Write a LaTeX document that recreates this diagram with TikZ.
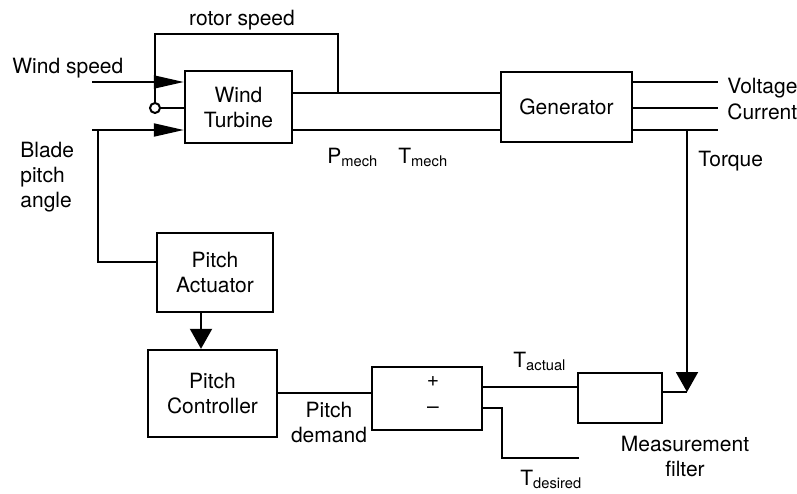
\documentclass[tikz,border=0pt]{standalone}
\usepackage{fontspec}
\setmainfont{TeX Gyre Heros}
\usetikzlibrary{arrows.meta}

\begin{document}
\begin{tikzpicture}[x=.5pt,y=-.5pt,font=\fontsize{10.5}{12.5}\selectfont,text=black,
  block/.style={draw=black,fill=white,line width=1.2pt,align=center,inner sep=0pt},
  wire/.style={line width=1pt},
  harrow/.style={wire,-{Triangle[length=15pt,width=6.5pt]}},
  varrow/.style={wire,-{Triangle[length=10pt,width=11pt]}},
  lbl/.style={align=center,inner sep=1pt},
  sub/.style={anchor=base west,inner sep=0pt}]
\useasboundingbox (0,0) rectangle (797,493);
\fill[white] (0,0) rectangle (797,493);

% BLOCKS
\node[block,minimum width=53.5pt,minimum height=36pt] (turbine) at (238.5,107) {Wind\\Turbine};
\node[block,minimum width=65.5pt,minimum height=35pt] (generator) at (566.5,107) {Generator};
\node[block,minimum width=58pt,minimum height=39.5pt] (actuator) at (215,272.5) {Pitch\\Actuator};
\node[block,minimum width=64.5pt,minimum height=43.5pt] (controller) at (212.5,393.5) {Pitch\\Controller};
\node[block,minimum width=55pt,minimum height=31.5pt] (summer) at (427,398.5) {};
\node[block,minimum width=42pt,minimum height=25pt] (filter) at (620,398) {};
\node[lbl] (plus) at (433,382) {+};
\node[lbl] (minus) at (433,410) {--};

% TURBINE INPUTS AND ROTOR SPEED LOOP
\coordinate (ws) at (92,82);
\coordinate (bp) at (92,130);
\draw[harrow] (ws) -- (turbine.west |- ws);
\draw[harrow] (bp) -- (turbine.west |- bp);
\node[draw,circle,line width=1pt,minimum size=5pt,inner sep=0pt] (inv) at (155,108) {};
\draw[wire] (inv) -- (turbine.west |- inv);
\coordinate (rs) at (338,93);
\draw[wire] (inv.north) -- (155,34) -| (rs);

% SHAFT TO GENERATOR
\draw[wire] (turbine.east |- rs) -- (generator.west |- rs);
\draw[wire] (turbine.east |- bp) -- (generator.west |- bp);

% GENERATOR OUTPUTS
\coordinate (volt) at (718,82);
\coordinate (curr) at (718,108);
\coordinate (torq) at (718,130);
\draw[wire] (generator.east |- volt) -- (volt);
\draw[wire] (generator.east |- curr) -- (curr);
\draw[wire] (generator.east |- torq) -- (torq);

% PITCH LOOP
\coordinate (tap) at (98,130);
\draw[wire] (tap) |- (actuator.west |- 0,262);
\draw[varrow] (actuator.south -| 201,0) -- (controller.north -| 201,0);
\draw[wire] (controller.east |- 0,393) -- (summer.west |- 0,393);

% TORQUE MEASUREMENT
\coordinate (meas) at (687,392);
\draw[varrow] (meas |- torq) -- (meas);
\draw[wire] (filter.east |- meas) -- (meas);
\draw[wire] (summer.east |- 0,387) -- (filter.west |- 0,387);
\coordinate (td) at (579,458);
\draw[wire] (summer.east |- 0,408) -- (502,408) |- (td);

% LABELS
\node[lbl] (rotorlbl) at (242,20) {rotor speed};
\node[lbl,anchor=west] (windlbl) at (10,68) {Wind speed};
\node[lbl,anchor=north west,align=left] (bladelbl) at (18,140) {Blade\\pitch\\angle};
\node[sub] (pmech) at (327,163) {P\textsubscript{mech}};
\node[sub] (tmech) at (398,163) {T\textsubscript{mech}};
\node[lbl,anchor=west] (voltlbl) at (725,88) {Voltage};
\node[lbl,anchor=west] (currlbl) at (725,112) {Current};
\node[lbl,anchor=west] (torqlbl) at (696,161) {Torque};
\node[lbl] (demandlbl) at (329,422) {Pitch\\demand};
\node[sub] (tactual) at (513,367) {T\textsubscript{actual}};
\node[sub] (tdesired) at (520,485) {T\textsubscript{desired}};
\node[lbl] (filterlbl) at (685,456) {Measurement\\filter};
\end{tikzpicture}
\end{document}
